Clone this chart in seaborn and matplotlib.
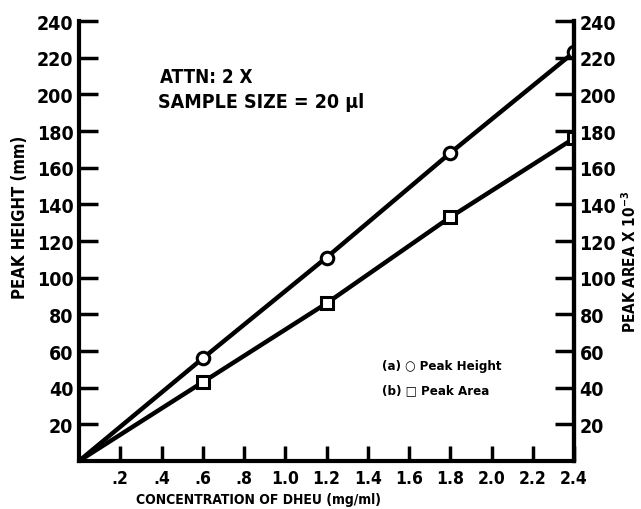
import matplotlib
matplotlib.use("Agg")
import matplotlib.pyplot as plt
import seaborn as sns
import pandas as pd

conc = [0.0, 0.6, 1.2, 1.8, 2.4]
peak_height = [0, 56, 111, 168, 223]
peak_area = [0, 43, 86, 133, 176]
x_ticks = [0.2, 0.4, 0.6, 0.8, 1.0, 1.2, 1.4, 1.6, 1.8, 2.0, 2.2, 2.4]
x_ticklabels = [".2", ".4", ".6", ".8", "1.0", "1.2", "1.4", "1.6", "1.8", "2.0", "2.2", "2.4"]
y_ticks = [20, 40, 60, 80, 100, 120, 140, 160, 180, 200, 220, 240]

sns.set_style("ticks")
plt.rcParams['font.family'] = ['DejaVu Sans']
plt.rcParams['font.weight'] = 'bold'
plt.rcParams['font.stretch'] = 'condensed'
for k in ['text.color', 'axes.labelcolor', 'xtick.color', 'ytick.color', 'axes.edgecolor']:
    plt.rcParams[k] = 'black'

df = pd.DataFrame({"conc": conc, "height": peak_height, "area": peak_area})

fig = plt.figure(figsize=(6.41, 5.10), dpi=100)
ax = fig.add_axes([79/641, 1-462/510, (574-79)/641, (462-22)/510])

sns.lineplot(data=df, x="conc", y="height", ax=ax, color="black", lw=3.2,
             marker="o", markersize=9, markerfacecolor="white",
             markeredgecolor="black", markeredgewidth=2.2, markevery=[1, 2, 3, 4])
sns.lineplot(data=df, x="conc", y="area", ax=ax, color="black", lw=3.2,
             marker="s", markersize=8, markerfacecolor="white",
             markeredgecolor="black", markeredgewidth=2.2, markevery=[1, 2, 3, 4])

ax.set_xlim(0, 2.4)
ax.set_ylim(0, 240)
ax.set_xticks(x_ticks)
ax.set_xticklabels(x_ticklabels, fontsize=12.5, fontweight='bold')
ax.set_yticks(y_ticks)
ax.set_yticklabels([str(v) for v in y_ticks], fontsize=14, fontweight='bold')
ax.tick_params(axis='x', direction='in', length=11, width=2.5, pad=6)
ax.tick_params(axis='y', direction='in', length=14, width=2.5, pad=4)
for s in ['left', 'bottom', 'top', 'right']:
    ax.spines[s].set_linewidth(3)
ax.spines['top'].set_visible(False)
ax.set_xlabel("CONCENTRATION OF DHEU (mg/ml)", fontsize=10, fontweight='bold')
ax.xaxis.set_label_coords((258-79)/495, (462-500)/440)
ax.xaxis.label.set_va('center')
ax.set_ylabel("PEAK HEIGHT (mm)", fontsize=12, fontweight='bold')
ax.yaxis.set_label_coords((20-79)/495, (462-217)/440)
ax.yaxis.label.set_va('center')

ax2 = ax.twinx()
ax2.set_ylim(0, 240)
ax2.set_yticks(y_ticks)
ax2.set_yticklabels([str(v) for v in y_ticks], fontsize=14, fontweight='bold')
ax2.tick_params(axis='y', direction='in', length=14, width=2.5, pad=4)
ax2.spines['right'].set_linewidth(3)
ax2.spines['top'].set_visible(False)
ax2.spines['left'].set_visible(False)
ax2.spines['bottom'].set_visible(False)
ax2.set_ylabel(r"PEAK AREA X 10$^{\mathbf{-3}}$", fontsize=11, fontweight='bold')
ax2.yaxis.set_label_coords((630-79)/495, (462-262)/440)
ax2.yaxis.label.set_va('center')

ax.text(0.393, 209.5, "ATTN: 2 X", fontsize=13.5, fontweight='bold', ha='left', va='center')
ax.text(0.385, 196, "SAMPLE SIZE = 20 \u00b5l", fontsize=14, fontweight='bold', ha='left', va='center')
ax.text(1.47, 52, "(a) \u25cb Peak Height", fontsize=9.5, fontweight='bold', ha='left', va='center')
ax.text(1.47, 39, "(b) \u25a1 Peak Area", fontsize=9.5, fontweight='bold', ha='left', va='center')

fig.savefig("out.png", dpi=100)
